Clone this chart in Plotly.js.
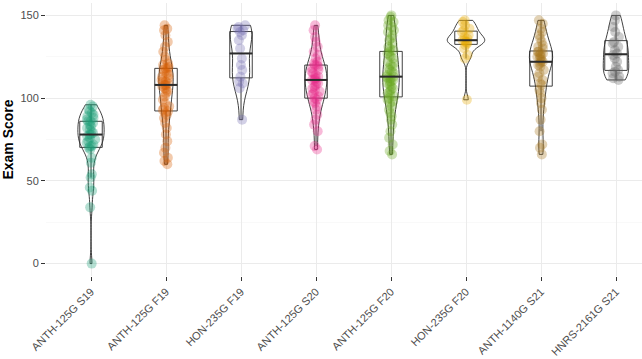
<!DOCTYPE html>
<html><head><meta charset="utf-8">
<script src="https://cdn.plot.ly/plotly-3.0.1.min.js"></script>
<style>html,body{margin:0;padding:0;background:#fff}#chart{width:642px;height:359px}</style>
</head><body><div id="chart"></div>
<script>
// ---- data ----
const categories = ['ANTH-125G S19','ANTH-125G F19','HON-235G F19','ANTH-125G S20','ANTH-125G F20','HON-235G F20','ANTH-1140G S21','HNRS-2161G S21'];
const anth125gS19 = [0,34,44,46,52,54,61,64,69,70,71,71,72,73,74,75,76,77,78,78,79,80,81,82,83,84,85,86,86,87,88,89,90,91,92,93,95,96];
const anth125gF19 = [60,62,64,67,70,74,78,82,85,88,90,91,92,93,94,95,97,99,101,103,104,105,106,107,108,108,109,110,110,111,112,113,114,115,116,117,118,118,119,120,121,123,125,128,131,134,138,141,142,144];
const hon235gF19 = [87,106,109,110,113,117,120,124,130,135,138,140,141,142,143,144];
const anth125gS20 = [69,71,80,84,87,90,93,95,97,98,99,100,101,102,103,104,105,106,107,108,109,110,111,111,112,112,113,114,115,116,117,118,119,120,120,121,122,124,126,128,131,134,137,141,144];
const anth125gF20 = [66,68,72,76,80,84,87,89,91,93,95,97,98,99,100,101,102,103,104,105,106,107,108,109,110,110,111,112,112,113,113,114,115,116,117,118,119,120,121,122,124,125,126,127,128,129,130,131,133,135,136,138,140,141,143,144,146,147,149,150];
const hon235gF20 = [99,124,126,130,132,133,134,134,135,135,136,137,138,140,141,142,144,146,147];
const anth1140gS21 = [66,70,72,80,87,93,97,100,103,105,108,109,111,113,115,117,119,120,121,122,122,123,124,125,125,126,127,127,128,128,130,131,132,134,136,138,140,142,145,147];
const hnrs2161gS21 = [111,112,113,115,116,117,119,122,124,126,127,129,131,133,134,137,140,143,147,150];
const groups = [anth125gS19, anth125gF19, hon235gF19, anth125gS20, anth125gF20, hon235gF20, anth1140gS21, hnrs2161gS21];
const yTicks = [0, 50, 100, 150];

// ---- styles ----
const groupColors = ['#1B9E77','#D95F02','#7570B3','#E7298A','#66A61E','#E6AB02','#A6761D','#666666'];
const violinWidths = [0.35, 0.19, 0.29, 0.29, 0.22, 0.5, 0.31, 0.34];
const boxWidth = 0.3;
const lineCol = '#2b2b2b';

function q7(s, p){ const h=(s.length-1)*p, lo=Math.floor(h), hi=Math.ceil(h); return s[lo]+(h-lo)*(s[hi]-s[lo]); }
function sd(a){ const m=a.reduce((x,y)=>x+y,0)/a.length; return Math.sqrt(a.reduce((x,y)=>x+(y-m)*(y-m),0)/(a.length-1)); }
function bwNrd0(a){ const s=[...a].sort((x,y)=>x-y); const iqr=q7(s,0.75)-q7(s,0.25); let lo=Math.min(sd(a), iqr/1.34); if(!lo) lo=sd(a)||1; return 0.9*lo*Math.pow(a.length,-0.2); }

const violins=[], boxes=[], medians=[], points=[];
groups.forEach((g,i)=>{
  const s=[...g].sort((a,b)=>a-b);
  const q1=q7(s,0.25), med=q7(s,0.5), q3=q7(s,0.75), iqr=q3-q1;
  const lf=s.find(v=>v>=q1-1.5*iqr), uf=[...s].reverse().find(v=>v<=q3+1.5*iqr);
  violins.push({type:'violin', x:g.map(()=>i), y:g, width:violinWidths[i], spanmode:'hard',
    bandwidth:bwNrd0(g), points:false, box:{visible:false}, meanline:{visible:false},
    fillcolor:'rgba(0,0,0,0)', line:{color:lineCol,width:0.9}, hoverinfo:'skip', showlegend:false});
  boxes.push({type:'box', x:[i], q1:[q1], median:[med], q3:[q3], lowerfence:[lf], upperfence:[uf],
    width:boxWidth, whiskerwidth:0, fillcolor:'rgba(0,0,0,0)', line:{color:lineCol,width:0.9},
    hoverinfo:'skip', showlegend:false});
  medians.push({type:'scatter', mode:'lines', x:[i-boxWidth/2, i+boxWidth/2], y:[med,med],
    line:{color:lineCol,width:2}, hoverinfo:'skip', showlegend:false});
  points.push({type:'box', x:g.map(()=>i), y:g, boxpoints:'all', pointpos:0, jitter:0.42, width:boxWidth,
    fillcolor:'rgba(0,0,0,0)', line:{color:'rgba(0,0,0,0)',width:0}, whiskerwidth:0,
    marker:{color:groupColors[i], size:10, opacity:0.33, line:{width:0}}, hoverinfo:'y', showlegend:false});
});

const layout = {
  width:642, height:359, margin:{l:46,r:0,t:3,b:83}, paper_bgcolor:'#fff', plot_bgcolor:'#fff',
  font:{family:'"Liberation Sans", Arial, sans-serif', color:'#4D4D4D'},
  boxmode:'overlay', violinmode:'overlay', showlegend:false,
  xaxis:{range:[-0.6, -0.6+596/75], tickvals:categories.map((c,i)=>i), ticktext:categories, tickangle:-45,
    ticks:'outside', ticklen:4, tickcolor:'#333', tickwidth:1, showgrid:true, gridcolor:'#EBEBEB', gridwidth:1,
    zeroline:false, showline:false, automargin:false, tickfont:{size:11,color:'#4D4D4D'}},
  yaxis:{range:[-7.5,157.5], tickvals:yTicks, ticks:'outside', ticklen:4, tickcolor:'#333', tickwidth:1,
    showgrid:true, gridcolor:'#EBEBEB', gridwidth:1, zeroline:false, showline:false, automargin:false,
    tickfont:{size:11,color:'#4D4D4D'},
    minor:{tickvals:[25,75,125], showgrid:true, gridcolor:'#F5F5F5', gridwidth:0.6, ticks:''},
    title:{text:'<b>Exam Score</b>', font:{size:14,color:'#000'}, standoff:6}}
};
Plotly.newPlot('chart', [...violins, ...boxes, ...medians, ...points], layout, {staticPlot:true});
</script></body></html>
